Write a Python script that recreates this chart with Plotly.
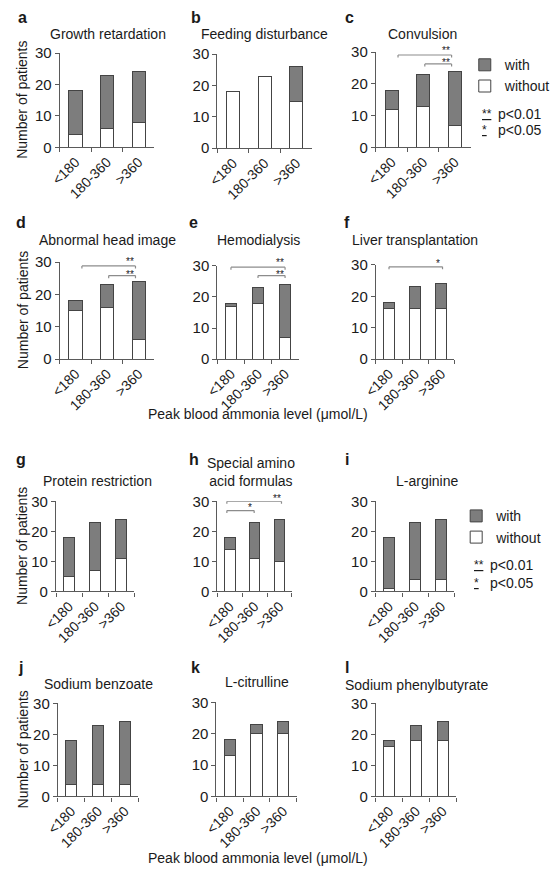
import plotly.graph_objects as go

W, H = 556, 878
FONT = "Liberation Sans, Arial, sans-serif"
TXT = "#1a1a1a"

# ---------------- data ----------------
categories = ["<180", "180-360", ">360"]
y_ticks = [0, 10, 20, 30]

panel_letters = ["a", "b", "c", "d", "e", "f", "g", "h", "i", "j", "k", "l"]
panel_titles = ["Growth retardation", "Feeding disturbance", "Convulsion",
                "Abnormal head image", "Hemodialysis", "Liver transplantation",
                "Protein restriction", "Special amino<br>acid formulas", "L-arginine",
                "Sodium benzoate", "L-citrulline", "Sodium phenylbutyrate"]

without_a = [4, 6, 8];    with_a = [14, 17, 16]
without_b = [18, 23, 15]; with_b = [0, 0, 11]
without_c = [12, 13, 7];  with_c = [6, 10, 17]
without_d = [15, 16, 6];  with_d = [3, 7, 18]
without_e = [17, 18, 7];  with_e = [1, 5, 17]
without_f = [16, 16, 16]; with_f = [2, 7, 8]
without_g = [5, 7, 11];   with_g = [13, 16, 13]
without_h = [14, 11, 10]; with_h = [4, 12, 14]
without_i = [1, 4, 4];    with_i = [17, 19, 20]
without_j = [4, 4, 4];    with_j = [14, 19, 20]
without_k = [13, 20, 20]; with_k = [5, 3, 4]
without_l = [16, 18, 18]; with_l = [2, 5, 6]

without_all = [without_a, without_b, without_c, without_d, without_e, without_f,
               without_g, without_h, without_i, without_j, without_k, without_l]
with_all = [with_a, with_b, with_c, with_d, with_e, with_f,
            with_g, with_h, with_i, with_j, with_k, with_l]

# significance brackets: (from category pos, to category pos, level, label)
sig_c = [(0.2, 1.9, 29.1, "**"), (1.05, 1.9, 26.3, "**")]
sig_d = [(0.2, 1.9, 28.8, "**"), (1.05, 1.9, 25.8, "**")]
sig_e = [(0.0, 2.0, 29.6, "**"), (1.0, 2.0, 26.9, "**")]
sig_f = [(0.0, 2.05, 29.4, "*")]
sig_h = [(-0.12, 2.08, 30.0, "**"), (-0.12, 0.98, 26.9, "*")]
significance = {3: sig_c, 4: sig_d, 5: sig_e, 6: sig_f, 8: sig_h}

legend_labels = ["with", "without"]
pvalue_labels = [("**", "p<0.01"), ("*", "p<0.05")]
x_title = "Peak blood ammonia level (μmol/L)"
y_title = "Number of patients"

# ---------------- layout geometry (pixels) ----------------
# left, right, top (y=30), bottom (y=0)
boxes = [(48, 147, 45, 141), (213, 312, 46, 142), (379, 478, 44, 141),
         (48, 147, 258, 357), (213, 298, 262, 357), (379, 461, 261, 357),
         (44, 126, 502, 594), (213, 291, 502, 594), (379, 461, 502, 594),
         (46, 130, 708, 803), (212, 296, 707, 803), (379, 463, 708, 803)]
letter_pos = [(9, 9), (191, 9), (351, 9), (7, 218), (188, 218), (349, 218),
              (7, 459), (188, 459), (349, 459), (7, 672), (190, 672), (349, 671)]
title_pos = [(98, 26), (262, 26), (428, 26), (98, 236), (256, 236), (420, 236),
             (87, 481), (248, 472), (432, 481), (89, 688), (254, 686), (421, 689)]

COL_WITH = "#7d7d7d"
COL_EDGE = "#444444"
COL_AXIS = "#5a5a5a"
COL_BRACKET = "#8c8c8c"
STAR_SIZE = 10


def px(x):
    return x / W


def py(y):
    return 1 - y / H


fig = go.Figure()
annotations = []
shapes = []

for n in range(12):
    k = n + 1
    xa = "x" if k == 1 else f"x{k}"
    ya = "y" if k == 1 else f"y{k}"
    show = n in (2, 8)
    leg = "legend" if n == 2 else "legend2"
    fig.add_trace(go.Bar(x=categories, y=without_all[n], name=legend_labels[1],
                         xaxis=xa, yaxis=ya,
                         marker=dict(color="white", line=dict(color=COL_EDGE, width=1)),
                         showlegend=show, legend=leg))
    fig.add_trace(go.Bar(x=categories, y=with_all[n], name=legend_labels[0],
                         xaxis=xa, yaxis=ya,
                         marker=dict(color=COL_WITH, line=dict(color=COL_EDGE, width=1)),
                         showlegend=show, legend=leg))
    l, r, t, b = boxes[n]
    xkey = "xaxis" if k == 1 else f"xaxis{k}"
    ykey = "yaxis" if k == 1 else f"yaxis{k}"
    fig.layout[xkey] = dict(domain=[px(l), px(r)], anchor=ya, type="category",
                            categoryorder="array", categoryarray=categories,
                            range=[-0.5, 2.5], showline=True, linecolor=COL_AXIS,
                            linewidth=1.3, ticks="outside", tickson="boundaries",
                            ticklen=4, tickwidth=1.3, tickcolor=COL_AXIS,
                            tickangle=-45, tickfont=dict(size=14, color=TXT),
                            showgrid=False, zeroline=False)
    fig.layout[ykey] = dict(domain=[py(b), py(t)], anchor=xa, range=[0, 30],
                            tickmode="array", tickvals=y_ticks, showline=True,
                            linecolor=COL_AXIS, linewidth=1.3, ticks="outside",
                            ticklen=4, tickwidth=1.3, tickcolor=COL_AXIS,
                            tickfont=dict(size=15, color=TXT),
                            showgrid=False, zeroline=False)
    # letter + title
    lx, ly = letter_pos[n]
    annotations.append(dict(text=f"<b>{panel_letters[n]}</b>", x=px(lx), y=py(ly),
                            xref="paper", yref="paper", showarrow=False,
                            xanchor="center", yanchor="middle",
                            font=dict(size=16, color=TXT)))
    tx, ty = title_pos[n]
    annotations.append(dict(text=panel_titles[n], x=px(tx), y=py(ty),
                            xref="paper", yref="paper", showarrow=False,
                            xanchor="center", yanchor="middle",
                            font=dict(size=14, color=TXT)))
    # significance brackets
    sigs = significance.get(k, [])
    for (x0, x1, lev, lab) in sigs:
        drop = 0.8
        for (ax0, ay0, ax1, ay1) in [(x0, lev, x1, lev), (x0, lev, x0, lev - drop),
                                     (x1, lev, x1, lev - drop)]:
            shapes.append(dict(type="line", xref=xa, yref=ya, x0=ax0, y0=ay0,
                               x1=ax1, y1=ay1,
                               line=dict(color=COL_BRACKET, width=1.2)))
        # stacked labels (same right end): upper one sits a bit higher
        same_x = [s for s in sigs if abs(s[1] - x1) < 0.05]
        if len(same_x) > 1:
            above = 7 if lev == max(s[2] for s in same_x) else 3.5
        else:
            above = 5.5
        annotations.append(dict(text=lab, x=x1 - 0.18, y=lev, xref=xa, yref=ya,
                                showarrow=False, xanchor="center", yanchor="middle",
                                yshift=above - 0.23 * STAR_SIZE,
                                font=dict(size=STAR_SIZE, color=TXT)))

# y axis titles (left column)
for n in (0, 3, 6, 9):
    l, r, t, b = boxes[n]
    annotations.append(dict(text=y_title, x=px(9), y=py((t + b) / 2), xref="paper",
                            yref="paper", showarrow=False, textangle=-90,
                            xanchor="center", yanchor="middle",
                            font=dict(size=14, color=TXT)))

# x axis titles
for yy in (413, 866):
    annotations.append(dict(text=x_title, x=px(255), y=py(yy), xref="paper",
                            yref="paper", showarrow=False, xanchor="center",
                            yanchor="middle", font=dict(size=14, color=TXT)))

# p-value keys
for (sx, tx0, ys) in [(488, 505, (107, 123)), (480, 496, (567, 585))]:
    for (stars, lab), yv in zip(pvalue_labels, ys):
        annotations.append(dict(text=f"<u>{stars}</u>", x=px(sx), y=py(yv),
                                xref="paper", yref="paper", showarrow=False,
                                xanchor="left", yanchor="middle",
                                font=dict(size=12, color=TXT)))
        annotations.append(dict(text=lab, x=px(tx0), y=py(yv), xref="paper",
                                yref="paper", showarrow=False, xanchor="left",
                                yanchor="middle", font=dict(size=14, color=TXT)))

legend_style = dict(font=dict(size=14, color=TXT, family=FONT), bgcolor="rgba(0,0,0,0)",
                    traceorder="reversed", itemwidth=30, tracegroupgap=0,
                    xanchor="left", yanchor="top", xref="paper", yref="paper")

fig.update_layout(
    width=W, height=H, margin=dict(l=0, r=0, t=0, b=0),
    paper_bgcolor="white", plot_bgcolor="white",
    font=dict(family=FONT, color=TXT, size=14),
    barmode="stack", bargap=0.58,
    annotations=annotations, shapes=shapes,
    legend=dict(x=px(472), y=py(41), **legend_style),
    legend2=dict(x=px(463), y=py(501), **legend_style),
)

fig.write_html("out.html",
               config={"displayModeBar": False},
               post_script="document.body.style.margin='0';"
                           "document.body.style.overflow='hidden';")
